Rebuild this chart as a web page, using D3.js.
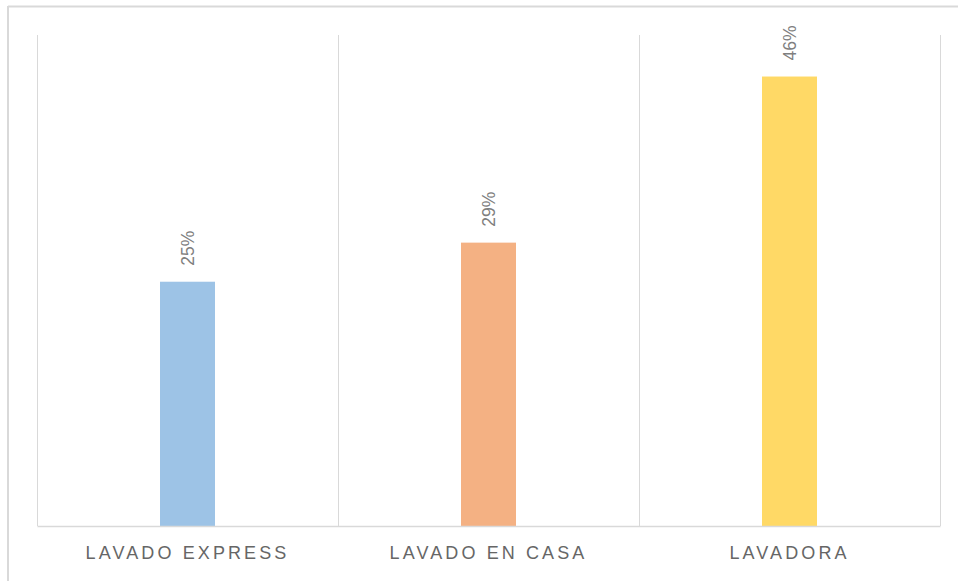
<!DOCTYPE html>
<html>
<head>
<meta charset="utf-8">
<script src="https://cdn.jsdelivr.net/npm/d3@7"></script>
<style>
  html, body { margin: 0; padding: 0; background: #fff; }
  svg { display: block; }
</style>
</head>
<body>
<svg id="chart" width="958" height="581"></svg>
<script>
// Share of respondents per washing option (percent)
const categories = ["LAVADO EXPRESS", "LAVADO EN CASA", "LAVADORA"];
const values = [25, 29, 46];
const valueLabels = ["25%", "29%", "46%"];
const barColors = ["#9DC3E6", "#F4B183", "#FFD966"];
const yDomain = [0, 50.25];

const svg = d3.select("#chart");
const W = 958, H = 581;
const margin = { left: 37, right: 18, top: 35, bottom: 55 };
const plotL = margin.left, plotR = W - margin.right;
const plotT = margin.top, plotB = H - margin.bottom;

// Chart frame (only top and left edges fall inside the view)
svg.append("line").attr("x1", 8).attr("x2", W).attr("y1", 6.5).attr("y2", 6.5)
  .attr("stroke", "#d9d9d9").attr("stroke-width", 2);
svg.append("line").attr("x1", 8).attr("x2", 8).attr("y1", 6).attr("y2", H)
  .attr("stroke", "#d9d9d9").attr("stroke-width", 2);

const x = d3.scaleBand().domain(categories).range([plotL, plotR]).paddingInner(0).paddingOuter(0);
const y = d3.scaleLinear().domain(yDomain).range([plotB, plotT]);

// Vertical category separators
const seps = categories.map(c => x(c)).concat([x(categories[categories.length - 1]) + x.bandwidth()]);
svg.append("g").selectAll("line").data(seps).join("line")
  .attr("x1", d => Math.round(d) + 0.5).attr("x2", d => Math.round(d) + 0.5)
  .attr("y1", plotT).attr("y2", plotB)
  .attr("stroke", "#d9d9d9").attr("stroke-width", 1);

// Bars
const barW = 55;
svg.append("g").selectAll("rect").data(values).join("rect")
  .attr("x", (d, i) => x(categories[i]) + x.bandwidth() / 2 - barW / 2)
  .attr("y", d => y(d))
  .attr("width", barW)
  .attr("height", d => y(0) - y(d))
  .attr("fill", (d, i) => barColors[i]);

// Baseline axis
const xAxis = d3.axisBottom(x).tickSize(0).tickPadding(20);
const gx = svg.append("g").attr("transform", `translate(0,${plotB})`).call(xAxis);
gx.select(".domain").attr("stroke", "#d9d9d9").attr("stroke-width", 1.5);
gx.selectAll("text")
  .attr("font-family", "'Liberation Sans', Arial, sans-serif")
  .attr("font-size", 18)
  .attr("letter-spacing", "3.1px")
  .attr("fill", "#666666");

// Rotated value labels above each bar
svg.append("g").selectAll("text").data(values).join("text")
  .attr("transform", (d, i) => {
    const cx = x(categories[i]) + x.bandwidth() / 2;
    return `translate(${cx + 6},${y(d) - 16}) rotate(-90)`;
  })
  .attr("text-anchor", "start")
  .attr("font-family", "'Liberation Sans', Arial, sans-serif")
  .attr("font-size", 17.5)
  .attr("fill", "#7f7f7f")
  .text((d, i) => valueLabels[i]);
</script>
</body>
</html>
